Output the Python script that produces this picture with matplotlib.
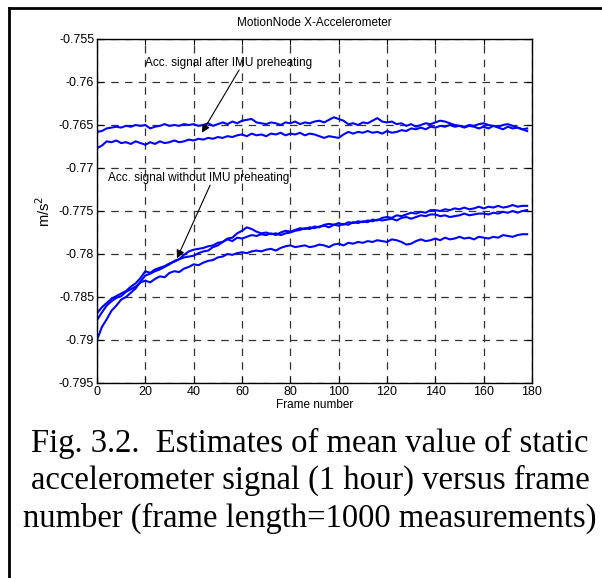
import numpy as np
import matplotlib
matplotlib.use("Agg")
import matplotlib.pyplot as plt
from matplotlib.lines import Line2D

# frame numbers (every 2nd frame)
frames = np.arange(0, 180, 2)

# after IMU preheating
after_1 = [
    -0.7658, -0.7657, -0.7654, -0.7653, -0.7652, -0.7653, -0.7651, -0.7652, -0.7650, -0.7651,
    -0.7650, -0.7654, -0.7652, -0.7651, -0.7649, -0.7651, -0.7650, -0.7651, -0.7649, -0.7650,
    -0.7649, -0.7651, -0.7650, -0.7648, -0.7651, -0.7649, -0.7647, -0.7649, -0.7646, -0.7648,
    -0.7645, -0.7644, -0.7643, -0.7647, -0.7648, -0.7649, -0.7647, -0.7648, -0.7650, -0.7647,
    -0.7648, -0.7646, -0.7649, -0.7647, -0.7648, -0.7646, -0.7645, -0.7647, -0.7644, -0.7641,
    -0.7643, -0.7645, -0.7649, -0.7648, -0.7650, -0.7647, -0.7648, -0.7645, -0.7642, -0.7646,
    -0.7647, -0.7646, -0.7649, -0.7648, -0.7651, -0.7649, -0.7652, -0.7650, -0.7648, -0.7649,
    -0.7647, -0.7645, -0.7646, -0.7648, -0.7650, -0.7651, -0.7652, -0.7650, -0.7651, -0.7649,
    -0.7648, -0.7650, -0.7651, -0.7652, -0.7650, -0.7649, -0.7651, -0.7653, -0.7655, -0.7657,
]
after_2 = [
    -0.7677, -0.7674, -0.7669, -0.7670, -0.7668, -0.7671, -0.7670, -0.7672, -0.7669, -0.7671,
    -0.7673, -0.7670, -0.7672, -0.7669, -0.7671, -0.7670, -0.7668, -0.7670, -0.7669, -0.7667,
    -0.7668, -0.7666, -0.7667, -0.7665, -0.7666, -0.7664, -0.7665, -0.7663, -0.7664, -0.7662,
    -0.7661, -0.7663, -0.7660, -0.7662, -0.7661, -0.7663, -0.7660, -0.7661, -0.7659, -0.7662,
    -0.7660, -0.7661, -0.7659, -0.7662, -0.7660, -0.7661, -0.7663, -0.7665, -0.7663, -0.7664,
    -0.7665, -0.7661, -0.7658, -0.7660, -0.7658, -0.7659, -0.7657, -0.7659, -0.7658, -0.7660,
    -0.7657, -0.7659, -0.7658, -0.7656, -0.7657, -0.7654, -0.7655, -0.7653, -0.7655, -0.7652,
    -0.7653, -0.7651, -0.7652, -0.7650, -0.7652, -0.7651, -0.7653, -0.7651, -0.7652, -0.7654,
    -0.7652, -0.7654, -0.7651, -0.7653, -0.7655, -0.7652, -0.7654, -0.7653, -0.7655, -0.7654,
]

# without IMU preheating
without_1 = [
    -0.7869, -0.7862, -0.7857, -0.7852, -0.7849, -0.7846, -0.7843, -0.7838, -0.7834, -0.7828,
    -0.7820, -0.7822, -0.7818, -0.7816, -0.7814, -0.7811, -0.7809, -0.7806, -0.7801, -0.7797,
    -0.7795, -0.7794, -0.7793, -0.7791, -0.7790, -0.7787, -0.7786, -0.7783, -0.7785, -0.7781,
    -0.7782, -0.7780, -0.7778, -0.7779, -0.7777, -0.7778, -0.7776, -0.7778, -0.7775, -0.7773,
    -0.7774, -0.7772, -0.7770, -0.7771, -0.7769, -0.7770, -0.7768, -0.7767, -0.7769, -0.7766,
    -0.7767, -0.7765, -0.7766, -0.7763, -0.7764, -0.7762, -0.7763, -0.7760, -0.7761, -0.7758,
    -0.7757, -0.7758, -0.7755, -0.7756, -0.7754, -0.7752, -0.7753, -0.7751, -0.7752, -0.7749,
    -0.7749, -0.7750, -0.7748, -0.7749, -0.7747, -0.7748, -0.7746, -0.7748, -0.7747, -0.7745,
    -0.7747, -0.7745, -0.7746, -0.7744, -0.7746, -0.7745, -0.7743, -0.7745, -0.7744, -0.7744,
]
without_2 = [
    -0.7900, -0.7885, -0.7876, -0.7866, -0.7860, -0.7853, -0.7850, -0.7845, -0.7840, -0.7832,
    -0.7825, -0.7823, -0.7820, -0.7818, -0.7815, -0.7812, -0.7808, -0.7806, -0.7804, -0.7803,
    -0.7802, -0.7799, -0.7797, -0.7796, -0.7792, -0.7790, -0.7786, -0.7782, -0.7781, -0.7776,
    -0.7773, -0.7769, -0.7771, -0.7774, -0.7776, -0.7775, -0.7777, -0.7776, -0.7778, -0.7776,
    -0.7775, -0.7773, -0.7772, -0.7770, -0.7771, -0.7768, -0.7769, -0.7766, -0.7765, -0.7766,
    -0.7764, -0.7766, -0.7763, -0.7764, -0.7762, -0.7763, -0.7761, -0.7762, -0.7760, -0.7761,
    -0.7760, -0.7759, -0.7761, -0.7758, -0.7757, -0.7759, -0.7757, -0.7755, -0.7756, -0.7754,
    -0.7754, -0.7756, -0.7755, -0.7757, -0.7756, -0.7755, -0.7753, -0.7755, -0.7754, -0.7753,
    -0.7753, -0.7754, -0.7752, -0.7753, -0.7751, -0.7752, -0.7750, -0.7752, -0.7750, -0.7749,
]
without_3 = [
    -0.7877, -0.7868, -0.7860, -0.7855, -0.7851, -0.7849, -0.7844, -0.7841, -0.7838, -0.7833,
    -0.7831, -0.7833, -0.7829, -0.7826, -0.7827, -0.7822, -0.7820, -0.7821, -0.7817, -0.7815,
    -0.7812, -0.7813, -0.7810, -0.7808, -0.7807, -0.7804, -0.7803, -0.7800, -0.7801, -0.7799,
    -0.7798, -0.7799, -0.7797, -0.7796, -0.7797, -0.7795, -0.7794, -0.7796, -0.7793, -0.7791,
    -0.7790, -0.7792, -0.7791, -0.7790, -0.7792, -0.7791, -0.7789, -0.7790, -0.7792, -0.7789,
    -0.7788, -0.7790, -0.7787, -0.7788, -0.7786, -0.7787, -0.7785, -0.7786, -0.7784, -0.7785,
    -0.7786, -0.7783, -0.7784, -0.7786, -0.7789, -0.7788, -0.7785, -0.7783, -0.7785, -0.7784,
    -0.7782, -0.7784, -0.7781, -0.7783, -0.7782, -0.7780, -0.7782, -0.7781, -0.7783, -0.7780,
    -0.7781, -0.7782, -0.7780, -0.7781, -0.7778, -0.7779, -0.7780, -0.7778, -0.7777, -0.7777,
]

xticks = [0, 20, 40, 60, 80, 100, 120, 140, 160, 180]
yticks = [-0.795, -0.79, -0.785, -0.78, -0.775, -0.77, -0.765, -0.76, -0.755]
ytick_labels = ["-0.795", "-0.79", "-0.785", "-0.78", "-0.775", "-0.77", "-0.765", "-0.76", "-0.755"]

caption = [
    "Fig. 3.2.  Estimates of mean value of static",
    "accelerometer signal (1 hour) versus frame",
    "number (frame length=1000 measurements)",
]

plt.rcParams["font.family"] = ["Liberation Sans", "DejaVu Sans"]

W, H = 602, 578
fig = plt.figure(figsize=(W / 100, H / 100), dpi=100)
fig.patch.set_facecolor("white")

ax = fig.add_axes([97 / W, 1 - 383 / H, 435 / W, 344 / H])

for s in [after_1, after_2, without_1, without_2, without_3]:
    ax.plot(frames, s, color="#0000ff", lw=1.5)

ax.set_xlim(0, 180)
ax.set_ylim(-0.795, -0.755)
ax.set_xticks(xticks)
ax.set_yticks(yticks)
ax.set_yticklabels(ytick_labels)
ax.tick_params(direction="in", length=4, width=0.8, top=True, right=True,
               labelsize=9, pad=2, colors="black")
ax.grid(True, color="0.2", lw=0.9, linestyle=(0, (6, 5)))
for sp in ax.spines.values():
    sp.set_linewidth(1.0)

ax.set_title("MotionNode X-Accelerometer", fontsize=8.5, pad=9)
ax.set_xlabel("Frame number", fontsize=8.5, labelpad=1)
ax.set_ylabel("m/s$^2$", fontsize=10.5, labelpad=4)

# labels with arrows
arrow = dict(arrowstyle="-|>", color="black", lw=0.8, shrinkA=0, shrinkB=0, mutation_scale=12)
ax.text(19.9, -0.7578, "Acc. signal after IMU preheating", fontsize=8.5, va="center", ha="left")
ax.annotate("", xy=(43.4, -0.7659), xytext=(58.8, -0.7586), arrowprops=arrow)
ax.text(4.6, -0.7712, "Acc. signal without IMU preheating", fontsize=8.5, va="center", ha="left")
ax.annotate("", xy=(33.1, -0.7805), xytext=(46.8, -0.7720), arrowprops=arrow)

for i, line in enumerate(caption):
    fig.text(310 / W, 1 - (443 + 37.5 * i) / H, line, ha="center", va="center",
             fontsize=23.5, family="Liberation Serif")

# page frame lines
fig.add_artist(Line2D([8.5 / W, 1.0], [1 - 7.5 / H, 1 - 7.5 / H], color="black", lw=2.0,
                      transform=fig.transFigure))
fig.add_artist(Line2D([8.5 / W, 8.5 / W], [1 - 7.5 / H, 0.0], color="black", lw=2.0,
                      transform=fig.transFigure))

fig.savefig("out.png", dpi=100)
